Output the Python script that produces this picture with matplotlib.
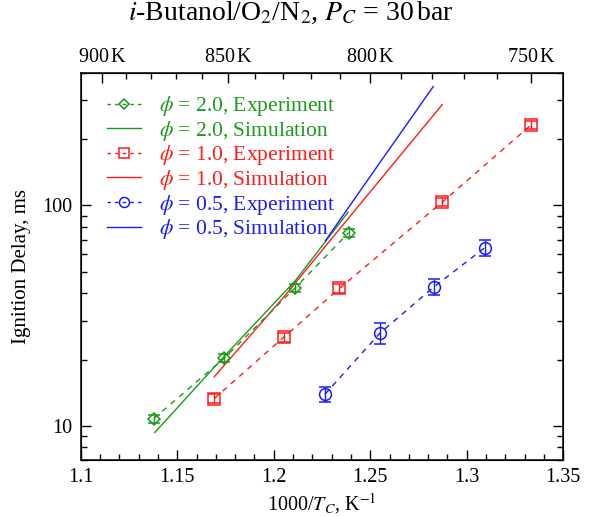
import numpy as np
import matplotlib
matplotlib.use("Agg")
import matplotlib.pyplot as plt
from matplotlib.lines import Line2D
from matplotlib.ticker import FixedLocator, NullFormatter, LogLocator, FuncFormatter

plt.rcParams['font.family'] = ['Liberation Serif', 'DejaVu Serif']
plt.rcParams['mathtext.fontset'] = 'stix'

# ---- data (x = 1000/T_C in 1/K, y = ignition delay in ms) ----
phi20_x = [1.1379, 1.1744, 1.2110, 1.2388]
phi20_y = [10.8, 20.3, 42.2, 75.2]
phi20_err = [0.45, 0.8, 1.6, 3.0]
phi20_sim_x = [1.1384, 1.1744, 1.2113, 1.2385]
phi20_sim_y = [9.33, 20.7, 45.7, 93.2]

phi10_x = [1.1692, 1.2053, 1.2340, 1.2873, 1.3333]
phi10_y = [13.3, 25.3, 42.0, 103.5, 232.0]
phi10_err = [0.6, 1.2, 2.0, 4.5, 10.0]
phi10_sim_x = [1.1692, 1.2053, 1.2340, 1.2873]
phi10_sim_y = [16.7, 38.5, 78.0, 287.0]

phi05_x = [1.2265, 1.2551, 1.2830, 1.3093]
phi05_y = [13.9, 26.4, 42.7, 64.3]
phi05_err = [1.05, 2.9, 3.6, 5.2]
phi05_sim_x = [1.2268, 1.2551, 1.2826]
phi05_sim_y = [69.3, 157.0, 346.0]

top_T_major = [900, 850, 800, 750]
top_T_minor = [890, 880, 870, 860, 840, 830, 820, 810, 790, 780, 770, 760]

green = '#1a9a1a'
red = '#ff1a1a'
blue = '#1a1aff'

fig = plt.figure(figsize=(5.99, 5.16), dpi=100)
ax = fig.add_axes([0.1347, 0.1085, 0.8057, 0.7505])

series = [
    (phi20_x, phi20_y, phi20_err, phi20_sim_x, phi20_sim_y, green, 'D', 6.0, '2.0'),
    (phi10_x, phi10_y, phi10_err, phi10_sim_x, phi10_sim_y, red, 's', 9.0, '1.0'),
    (phi05_x, phi05_y, phi05_err, phi05_sim_x, phi05_sim_y, blue, 'o', 8.5, '0.5'),
]

dash = (0, (4, 4))
handles = []
labels = []
colors = []
for ex, ey, ee, sx, sy, c, m, ms, phi in series:
    ax.errorbar(ex, ey, yerr=ee, color=c, marker=m, ms=ms, mfc='none',
                mec=c, mew=1.1, ls=dash, lw=1.0, capsize=4.5,
                elinewidth=1.0, capthick=1.0)
    ax.plot(sx, sy, color=c, lw=1.0, ls='-')
    hm = Line2D([], [], color=c, marker=m, ms=ms * 0.85, mfc='none', mec=c,
                mew=1.1, ls=(0, (2.5, 3)), lw=1.0)
    hs = Line2D([], [], color=c, lw=1.0, ls='-')
    handles += [hm, hs]
    labels += [r'$\phi$ = %s, Experiment' % phi, r'$\phi$ = %s, Simulation' % phi]
    colors += [c, c]

ax.set_yscale('log')
ax.set_xlim(1.1, 1.35)
ax.set_ylim(7.0, 400)
ax.set_xticks([1.1, 1.15, 1.2, 1.25, 1.3, 1.35])
ax.set_xticklabels(['1.1', '1.15', '1.2', '1.25', '1.3', '1.35'])
ax.xaxis.set_minor_locator(FixedLocator(np.arange(1.1, 1.3501, 0.01)))
ax.yaxis.set_major_locator(FixedLocator([10, 100]))
ax.yaxis.set_major_formatter(FuncFormatter(lambda v, p: '%d' % v))
ax.yaxis.set_minor_locator(LogLocator(base=10, subs=np.arange(2, 10)))
ax.yaxis.set_minor_formatter(NullFormatter())
ax.tick_params(which='both', direction='in', top=False, right=True,
               labelsize=14.5, width=1.0)
ax.tick_params(which='major', length=7, pad=6)
ax.tick_params(which='minor', length=4.5)
for s in ax.spines.values():
    s.set_linewidth(1.1)

ax.set_xlabel(r'1000/$T_C$, K$^{-1}$', fontsize=14.5, labelpad=3)
ax.set_ylabel('Ignition Delay, ms', fontsize=15, labelpad=8)

# top temperature axis
ax2 = ax.twiny()
ax2.set_xlim(ax.get_xlim())
ax2.set_xticks([1000.0 / t for t in top_T_major])
ax2.set_xticklabels([r'%d$\,$K' % t for t in top_T_major])
ax2.xaxis.set_minor_locator(FixedLocator([1000.0 / t for t in top_T_minor]))
ax2.tick_params(which='both', direction='in', labelsize=14.5, width=1.0, pad=4)
ax2.tick_params(which='major', length=7)
ax2.tick_params(which='minor', length=4.5)

leg = ax.legend(handles, labels, loc='upper left', frameon=False, fontsize=15.5,
                handlelength=1.55, handletextpad=0.85, labelspacing=0.03,
                borderaxespad=0.0, borderpad=0.0, bbox_to_anchor=(0.055, 0.945))
for t, c in zip(leg.get_texts(), colors):
    t.set_color(c)

fig.text(0.485, 1.0, r'$i$-Butanol/O$_2$/N$_2$, $P_C$ = 30$\,$bar', ha='center', va='top',
         fontsize=20)

fig.savefig('out.png', dpi=100)
